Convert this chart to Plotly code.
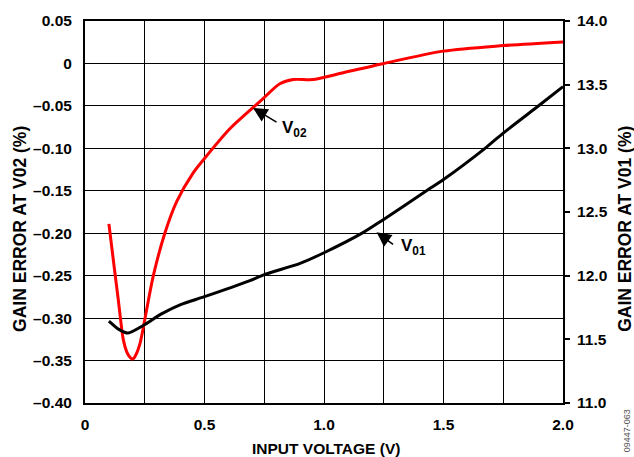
import plotly.graph_objects as go

# ---- data ----
v02_x = [0.10, 0.12, 0.14, 0.16, 0.175, 0.185, 0.195, 0.205, 0.215, 0.23, 0.244, 0.286, 0.334,
         0.383, 0.45, 0.50, 0.606, 0.703, 0.745, 0.815, 0.871, 0.954, 1.05, 1.25, 1.50, 1.75, 2.00]
v02_y = [-0.189, -0.235, -0.280, -0.325, -0.340, -0.345, -0.348, -0.347, -0.342, -0.330, -0.311,
         -0.250, -0.200, -0.163, -0.130, -0.112, -0.077, -0.052, -0.0415, -0.024, -0.019, -0.019,
         -0.013, 0.000, 0.0145, 0.021, 0.0254]

v01_x = [0.10, 0.14, 0.18, 0.244, 0.32, 0.40, 0.50, 0.69, 0.75, 0.90, 1.00, 1.163, 1.24,
         1.435, 1.50, 1.679, 1.75, 1.902, 2.00]
v01_y = [11.643, 11.580, 11.549, 11.609, 11.700, 11.773, 11.835, 11.961, 12.008, 12.096, 12.180,
         12.338, 12.430, 12.674, 12.755, 13.008, 13.120, 13.340, 13.484]

x_ticks = [0, 0.25, 0.5, 0.75, 1.0, 1.25, 1.5, 1.75, 2.0]
x_labels = ["0", "", "0.5", "", "1.0", "", "1.5", "", "2.0"]
y_ticks = [-0.40, -0.35, -0.30, -0.25, -0.20, -0.15, -0.10, -0.05, 0.0, 0.05]
y_labels = ["–0.40", "–0.35", "–0.30", "–0.25", "–0.20", "–0.15", "–0.10", "–0.05", "0", "0.05"]
y2_ticks = [11.0, 11.5, 12.0, 12.5, 13.0, 13.5, 14.0]
y2_labels = ["11.0", "11.5", "12.0", "12.5", "13.0", "13.5", "14.0"]

FONT = "Liberation Sans, Arial, Helvetica, sans-serif"

fig = go.Figure()
fig.add_trace(go.Scatter(x=v02_x, y=v02_y, mode="lines", name="V02", yaxis="y",
                         line=dict(color="#ff0000", width=3, shape="spline", smoothing=0.8)))
fig.add_trace(go.Scatter(x=v01_x, y=v01_y, mode="lines", name="V01", yaxis="y2",
                         line=dict(color="#000000", width=3, shape="spline", smoothing=0.6)))

tickfont = dict(family=FONT, size=15.5, color="black", weight="bold")

fig.update_layout(
    width=634, height=457,
    margin=dict(l=85, r=71, t=19, b=54),
    paper_bgcolor="white", plot_bgcolor="white",
    showlegend=False,
    xaxis=dict(range=[0, 2.0], tickvals=x_ticks, ticktext=x_labels, showgrid=True,
               gridcolor="black", gridwidth=1.2, showline=True, linecolor="black", linewidth=2,
               mirror=True, ticks="", tickfont=tickfont, ticklabelstandoff=6, zeroline=False),
    yaxis=dict(range=[-0.40, 0.05], tickvals=y_ticks, ticktext=y_labels, showgrid=True,
               gridcolor="black", gridwidth=1.2, showline=True, linecolor="black", linewidth=2,
               mirror=True, ticks="", tickfont=tickfont, ticklabelstandoff=8, zeroline=False),
    yaxis2=dict(range=[11.0, 14.0], tickvals=y2_ticks, ticktext=y2_labels, overlaying="y",
                side="right", showgrid=False, showline=True, linecolor="black", linewidth=2,
                ticks="outside", ticklen=5, tickwidth=1.5, tickcolor="black",
                tickfont=tickfont, ticklabelstandoff=4, zeroline=False),
)

title_font = dict(family=FONT, size=15.5, color="black", weight="bold")
label_font = dict(family=FONT, size=17, color="black", weight="bold")
ytitle_font = dict(family=FONT, size=17.5, color="black", weight="bold")

fig.add_annotation(text="INPUT VOLTAGE (V)", xref="paper", yref="paper", x=0.5047, y=-0.1198,
                   xanchor="center", yanchor="middle", showarrow=False, font=title_font)
fig.add_annotation(text="GAIN ERROR AT V02 (%)", xref="paper", yref="paper", x=-0.135, y=0.457,
                   xanchor="center", yanchor="middle", textangle=-90, showarrow=False,
                   font=ytitle_font)
fig.add_annotation(text="GAIN ERROR AT V01 (%)", xref="paper", yref="paper", x=1.1306, y=0.457,
                   xanchor="center", yanchor="middle", textangle=-90, showarrow=False,
                   font=ytitle_font)
fig.add_annotation(text="09447-063", xref="paper", yref="paper", x=1.1327, y=-0.073,
                   xanchor="center", yanchor="middle", textangle=-90, showarrow=False,
                   font=dict(family=FONT, size=9, color="#555555"))

# arrows
fig.add_annotation(text="", x=0.703, y=-0.0525, xref="x", yref="y", showarrow=True,
                   ax=25, ay=15, arrowhead=2, arrowsize=1.8, arrowwidth=1.6, arrowcolor="black")
fig.add_annotation(text="V<sub>02</sub>", xref="paper", yref="paper",
                   x=(280 - 85) / 478.5, y=(403 - 128) / 384, xanchor="left", yanchor="middle",
                   showarrow=False, font=label_font)
fig.add_annotation(text="", x=1.22, y=12.34, xref="x", yref="y2", showarrow=True,
                   ax=18, ay=13, arrowhead=2, arrowsize=1.8, arrowwidth=1.6, arrowcolor="black")
fig.add_annotation(text="V<sub>01</sub>", xref="paper", yref="paper",
                   x=(399 - 85) / 478.5, y=(403 - 246) / 384, xanchor="left", yanchor="middle",
                   showarrow=False, font=label_font)

fig.write_html("out.html", config={"displayModeBar": False},
               post_script="document.body.style.margin='0';document.body.style.overflow='hidden';")
